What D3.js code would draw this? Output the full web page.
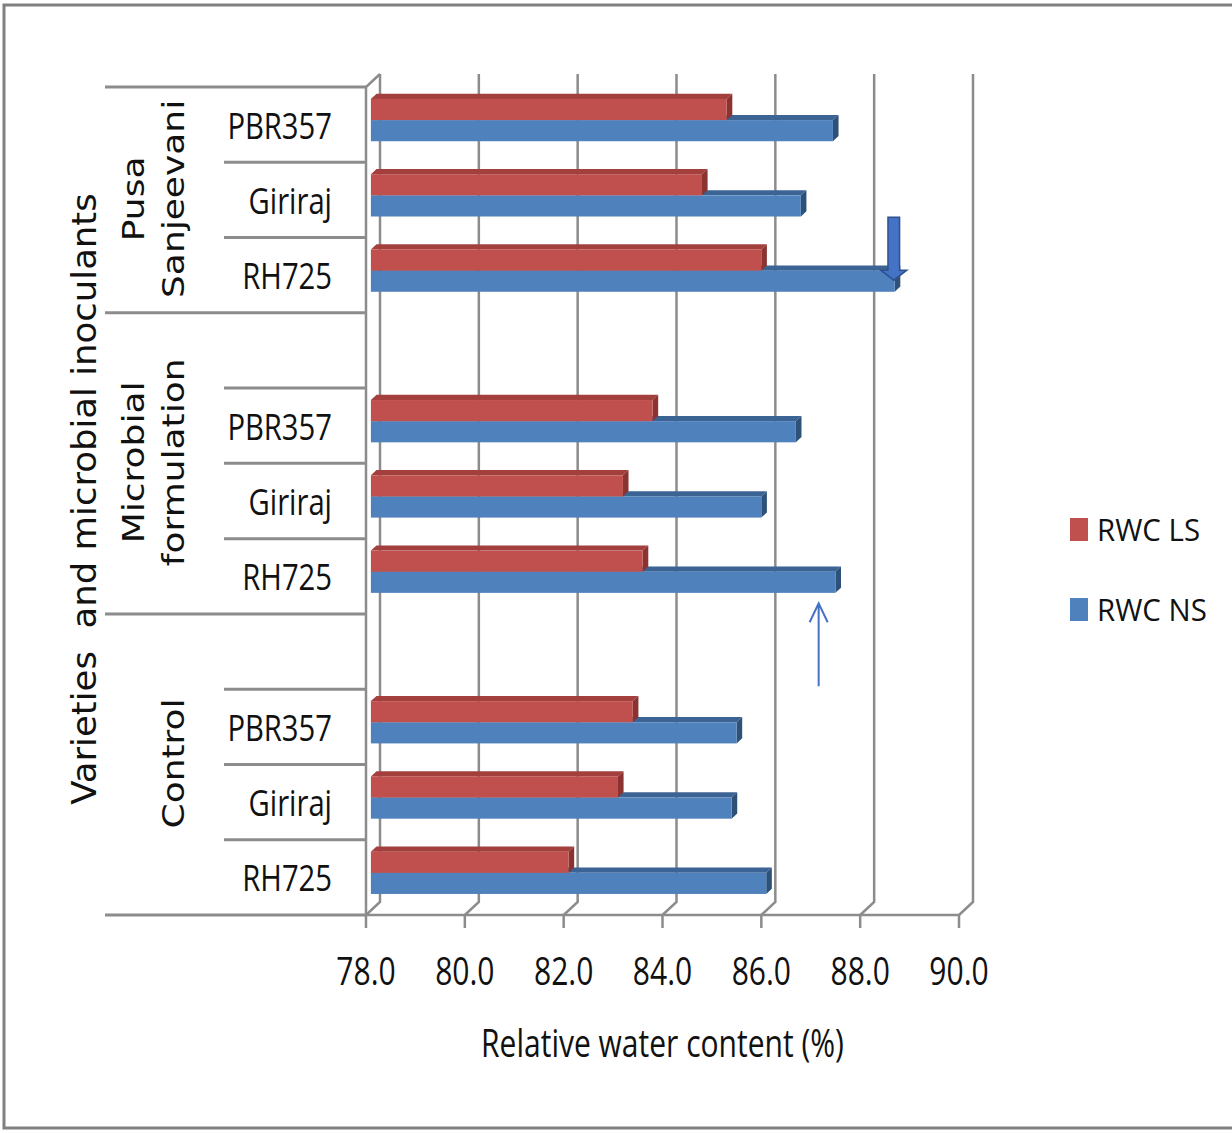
<!DOCTYPE html>
<html>
<head>
<meta charset="utf-8">
<script src="https://d3js.org/d3.v7.min.js"></script>
<style>
  body { margin: 0; background: #fff; }
  svg { display: block; }
</style>
</head>
<body>
<div id="chart"></div>
<script>
var varieties = ["PBR357", "Giriraj", "RH725"];
var groups = ["Pusa Sanjeevani", "Microbial formulation", "Control"];
var groupLabels = [["Pusa", "Sanjeevani"], ["Microbial", "formulation"], ["Control"]];
var series = ["RWC LS", "RWC NS"];
// values in row order: Pusa (PBR357, Giriraj, RH725), Microbial (...), Control (...)
var rwcLS = [85.2, 84.7, 85.9, 83.7, 83.1, 83.5, 83.3, 83.0, 82.0];
var rwcNS = [87.35, 86.7, 88.6, 86.6, 85.9, 87.4, 85.4, 85.3, 86.0];
var xTicks = [78, 80, 82, 84, 86, 88, 90];
var xTitle = "Relative water content (%)";
var yTitle = "Varieties  and microbial inoculants";

(function(){
	var width = 1232,
	height = 1133;

	var svg = d3.select("#chart")
		.append("svg")
		.attr("width", width)
		.attr("height", height);

	// outer frame
	svg.append("rect")
		.attr("x", 4).attr("y", 5)
		.attr("width", width + 10).attr("height", 1123)
		.attr("fill", "none")
		.attr("stroke", "#808080")
		.attr("stroke-width", 3);

	// rows top to bottom, Excel puts a blank slot on top of the lower groups
	var rows = [];
	groups.forEach(function(g, gi){
		if (gi > 0) rows.push({key: g + "|blank", group: g, variety: null});
		varieties.forEach(function(v){
			rows.push({key: g + "|" + v, group: g, variety: v});
		});
	});
	var data = [];
	groups.forEach(function(g, gi){
		varieties.forEach(function(v, vi){
			var i = gi * varieties.length + vi;
			data.push({key: g + "|" + v, group: g, variety: v, values: [rwcLS[i], rwcNS[i]]});
		});
	});

	var x = d3.scaleLinear().domain([78, 90]).range([366, 959]);
	var y = d3.scaleBand().domain(rows.map(function(d){ return d.key; })).range([87, 915]);
	var ySub = d3.scaleBand().domain(series).range([0, y.bandwidth()]).paddingOuter(0.78);
	var colors = {
		"RWC LS": {front: "#c0504d", top: "#a3403e", side: "#8a3331"},
		"RWC NS": {front: "#4f81bd", top: "#3b6494", side: "#2e5178"}
	};

	var DX = 14, DY = 13;          // depth of the plot box
	var f0 = 0.35, f1 = 0.75;      // bar depth inside box
	var yTop = y.range()[0], yBot = y.range()[1];
	var grid = "#8c8c8c";

	// back wall gridlines + floor diagonals
	var gl = svg.append("g");
	xTicks.forEach(function(t){
		gl.append("path")
			.attr("d", "M" + (x(t) + DX) + "," + (yTop - DY) + "V" + (yBot - DY) + "L" + x(t) + "," + yBot)
			.attr("fill", "none")
			.attr("stroke", grid)
			.attr("stroke-width", 2.5);
		gl.append("line")
			.attr("x1", x(t)).attr("x2", x(t))
			.attr("y1", yBot).attr("y2", yBot + 13)
			.attr("stroke", grid).attr("stroke-width", 2.5);
	});
	// left wall front edges
	gl.append("path")
		.attr("d", "M" + (x(78) + DX) + "," + (yTop - DY) + "L" + x(78) + "," + yTop + "V" + yBot + "H" + x(90))
		.attr("fill", "none")
		.attr("stroke", grid)
		.attr("stroke-width", 2.5);

	// 3d bars
	var bars = svg.append("g");
	data.forEach(function(d){
		[1, 0].forEach(function(si){
			var s = series[si];
			var c = colors[s];
			var x0 = x(78), x1 = x(d.values[si]);
			var y0 = y(d.key) + ySub(s), y1 = y0 + ySub.bandwidth();
			var fx = DX * f0, fy = -DY * f0, bx = DX * f1, by = -DY * f1;
			bars.append("path")
				.attr("d", "M" + (x0 + fx) + "," + (y0 + fy) + "L" + (x1 + fx) + "," + (y0 + fy) + "L" + (x1 + bx) + "," + (y0 + by) + "L" + (x0 + bx) + "," + (y0 + by) + "Z")
				.attr("fill", c.top);
			bars.append("path")
				.attr("d", "M" + (x1 + fx) + "," + (y0 + fy) + "L" + (x1 + bx) + "," + (y0 + by) + "L" + (x1 + bx) + "," + (y1 + by) + "L" + (x1 + fx) + "," + (y1 + fy) + "Z")
				.attr("fill", c.side);
			bars.append("rect")
				.attr("x", x0 + fx)
				.attr("y", y0 + fy)
				.attr("width", x1 - x0)
				.attr("height", y1 - y0)
				.attr("fill", c.front);
		});
	});

	function squeezed(g, txt, tx, ty, opt) {
		var tr = "translate(" + tx + "," + ty + ") scale(" + (opt.sx || 1) + ",1)" + (opt.rotate ? " rotate(-90)" : "");
		return g.append("text")
			.attr("transform", tr)
			.attr("text-anchor", opt.anchor || "middle")
			.attr("font-family", opt.font || "'Open Sans', sans-serif")
			.attr("font-size", opt.size)
			.attr("fill", "#111")
			.text(txt);
	}

	// category axis (multi level)
	var cat = svg.append("g");
	var groupBounds = [];
	groups.forEach(function(g){
		var r = rows.filter(function(d){ return d.group === g; });
		groupBounds.push([y(r[0].key), y(r[r.length - 1].key) + y.bandwidth()]);
	});
	var outer = [groupBounds[0][0]].concat(groupBounds.map(function(b){ return b[1]; }));
	outer.forEach(function(yy){
		cat.append("line")
			.attr("x1", 105).attr("x2", x(78))
			.attr("y1", yy).attr("y2", yy)
			.attr("stroke", grid).attr("stroke-width", 3);
	});
	rows.forEach(function(d, i){
		var prev = rows[i - 1];
		if (prev && prev.group === d.group) {
			cat.append("line")
				.attr("x1", 224).attr("x2", x(78))
				.attr("y1", y(d.key)).attr("y2", y(d.key))
				.attr("stroke", grid).attr("stroke-width", 3);
		}
		if (d.variety) {
			squeezed(cat, d.variety, 332, y(d.key) + y.bandwidth() / 2 + 14, {size: 37, sx: 0.79, anchor: "end"});
		}
	});
	groupLabels.forEach(function(lines, gi){
		var cy = (groupBounds[gi][0] + groupBounds[gi][1]) / 2 - 1;
		var base = lines.length === 1 ? [184] : [144, 184];
		lines.forEach(function(t, li){
			squeezed(cat, t, base[li], cy, {size: 36, sx: 0.84, rotate: true, font: "'DejaVu Sans', sans-serif"});
		});
	});
	squeezed(cat, yTitle, 96, 499, {size: 35.5, sx: 0.95, rotate: true, font: "'DejaVu Sans', sans-serif"}).attr("xml:space", "preserve");

	// x tick labels + title
	var ax = svg.append("g");
	xTicks.forEach(function(t){
		squeezed(ax, d3.format(".1f")(t), x(t), 985, {size: 38, sx: 0.79});
	});
	squeezed(ax, xTitle, x(84), 1057, {size: 38, sx: 0.79});

	// legend
	var lg = svg.append("g");
	series.forEach(function(s, i){
		var ly = 518 + i * 80;
		lg.append("rect")
			.attr("x", 1070).attr("y", ly)
			.attr("width", 18).attr("height", 23)
			.attr("fill", colors[s].front);
		squeezed(lg, s, 1097, ly + 22.5, {size: 31, sx: 0.95, anchor: "start"});
	});

	// annotation arrows
	var an = svg.append("g");
	var downRow = y(groups[0] + "|RH725") + y.bandwidth() / 2;
	var ax1 = x(88.68);
	an.append("path")
		.attr("d", "M" + (ax1 - 5.8) + "," + (downRow - 58) + "H" + (ax1 + 5.8) + "V" + (downRow - 5) +
			"H" + (ax1 + 13) + "L" + ax1 + "," + (downRow + 5) + "L" + (ax1 - 13) + "," + (downRow - 5) +
			"H" + (ax1 - 5.8) + "Z")
		.attr("fill", "#4472c4")
		.attr("stroke", "#2f528f")
		.attr("stroke-width", 1.5);
	var upRow = y(groups[1] + "|RH725") + y.bandwidth() / 2;
	var ax2 = x(87.16);
	an.append("path")
		.attr("d", "M" + ax2 + "," + (upRow + 110) + "V" + (upRow + 27) +
			"M" + (ax2 - 9) + "," + (upRow + 46) + "L" + ax2 + "," + (upRow + 27) + "L" + (ax2 + 9) + "," + (upRow + 46))
		.attr("fill", "none")
		.attr("stroke", "#4472c4")
		.attr("stroke-width", 2);
})();
</script>
</body>
</html>
